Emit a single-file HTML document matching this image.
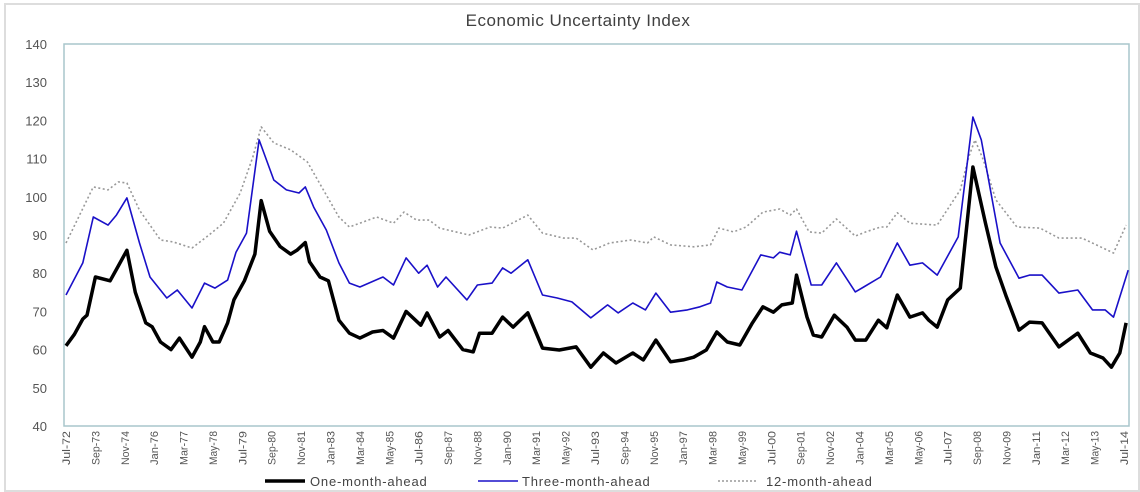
<!DOCTYPE html>
<html><head><meta charset="utf-8"><style>
body{margin:0;background:#fff;width:1140px;height:492px;overflow:hidden;font-family:"Liberation Sans",sans-serif}
svg{display:block}
</style></head><body>
<svg id="chart" width="1140" height="492" xmlns="http://www.w3.org/2000/svg">
<rect x="5" y="4" width="1134" height="487" fill="#fff" stroke="#ddd" stroke-width="2"/>
<text x="578" y="26" text-anchor="middle" font-size="17" fill="#404040" letter-spacing="0.5">Economic Uncertainty Index</text>
<g id="yaxis"></g>
<g id="xaxis"></g>
<rect x="64" y="44" width="1065" height="382" fill="none" stroke="#a8c6cc" stroke-width="1.5"/>
<g id="series"></g>
<g>
<g><line x1="265" y1="481" x2="305" y2="481" stroke="#000" stroke-width="3.5"/><text x="310" y="486" font-size="13" fill="#444" letter-spacing="0.8">One-month-ahead</text></g>
<g><line x1="478" y1="481" x2="518" y2="481" stroke="#1a10c8" stroke-width="1.5"/><text x="522" y="486" font-size="13" fill="#444" letter-spacing="0.8">Three-month-ahead</text></g>
<g><line x1="718" y1="481" x2="758" y2="481" stroke="#999" stroke-width="1.5" stroke-dasharray="2,2"/><text x="766" y="486" font-size="13" fill="#444" letter-spacing="0.8">12-month-ahead</text></g>
</g>
</svg>
<script>
const yTicks=[40,50,60,70,80,90,100,110,120,130,140];
const xTickLabels=["Jul-72","Sep-73","Nov-74","Jan-76","Mar-77","May-78","Jul-79","Sep-80","Nov-81","Jan-83","Mar-84","May-85","Jul-86","Sep-87","Nov-88","Jan-90","Mar-91","May-92","Jul-93","Sep-94","Nov-95","Jan-97","Mar-98","May-99","Jul-00","Sep-01","Nov-02","Jan-04","Mar-05","May-06","Jul-07","Sep-08","Nov-09","Jan-11","Mar-12","May-13","Jul-14"];
const oneMonths=[0,4,8,10,14,21,25,29,33,38,41,45,50,54,60,64,66,70,73,77,80,85,90,93,97,102,107,110,114,116,121,125,130,135,140,146,151,156,162,169,172,178,182,189,194,197,203,208,213,220,227,235,243,250,256,262,270,275,281,288,294,299,305,310,315,321,327,332,337,341,346,348,353,356,360,366,372,376,381,387,391,396,402,408,411,415,420,426,432,438,443,448,454,459,465,473,482,488,494,498,502,505];
const oneValues=[61,64,68,69,79,78,82,86,75,67,66,62,60,63,58,62,66,62,62,67,73,78,85,99,91,87,85,86,88,83,79,78,67.7,64.3,63,64.6,65,63,70,66.4,69.6,63.3,65,60,59.4,64.3,64.3,68.5,65.9,69.6,60.4,59.9,60.7,55.4,59.1,56.5,59.1,57.3,62.5,56.8,57.3,58,59.9,64.6,62,61.2,67,71.2,69.8,71.7,72.2,79.5,68.5,63.8,63.3,69,65.9,62.5,62.5,67.7,65.7,74.3,68.5,69.6,67.7,65.9,73,76.1,107.8,93.1,81.6,73.8,65.1,67.2,67,60.7,64.3,59.1,57.8,55.4,59.1,67];
const threeMonths=[0,8,13,20,24,29,35,40,48,53,60,66,71,77,81,86,92,99,105,111,114,118,124,130,135,140,151,156,162,168,172,177,181,191,196,203,208,212,220,227,234,241,250,258,263,270,276,281,288,296,302,307,310,315,322,331,337,340,345,348,355,360,367,376,380,388,396,402,408,415,425,432,436,445,454,459,465,473,482,489,495,499,506];
const threeValues=[74.3,82.7,94.7,92.6,95.2,99.7,87.9,79,73.5,75.6,70.9,77.4,76.1,78.2,85.5,90.5,114.9,104.4,101.8,101,102.6,97.3,91.3,82.7,77.4,76.4,79,76.9,84,80,82.1,76.4,79,73,76.9,77.4,81.4,80,83.5,74.3,73.5,72.5,68.3,71.7,69.6,72.2,70.4,74.8,69.8,70.4,71.2,72.2,77.7,76.4,75.6,84.8,84,85.5,84.8,91,76.9,76.9,82.7,75.1,76.4,79,87.9,82.1,82.7,79.5,89.5,120.9,114.9,87.9,78.7,79.5,79.5,74.8,75.6,70.4,70.4,68.5,80.8];
const twelveMonths=[0,13,20,25,29,35,45,51,60,67,75,83,89,93,99,107,115,130,135,148,156,161,167,173,178,192,202,208,220,227,237,243,251,259,269,277,280,288,299,307,311,318,324,332,340,345,348,354,360,367,376,381,388,391,396,402,415,426,430,433,437,443,453,464,473,484,499,505];
const twelveValues=[87.9,102.6,101.8,103.9,103.6,96.5,88.7,88.2,86.6,89.5,93.1,101,110.4,118.3,114.1,112.3,109.1,94.7,92.1,94.7,93.1,96,93.9,93.9,91.8,90,92.1,91.8,95.2,90.5,89.2,89.2,86.1,87.9,88.7,87.9,89.5,87.4,86.9,87.4,91.8,90.8,92.1,96,96.8,95.2,96.8,90.8,90.5,94.2,89.7,90.8,92.1,92.1,95.8,93.1,92.6,101.8,110.4,114.9,109.6,99.2,92.1,91.8,89.2,89.2,85.3,92.6];

const NS="http://www.w3.org/2000/svg";
const X0=66,PXM=(1124-66)/504,Y0=426,Y1=44,VMIN=40,VMAX=140;
function xs(m){return X0+m*PXM;}
function ys(v){return Y0-(v-VMIN)*(Y0-Y1)/(VMAX-VMIN);}
const yaxis=document.getElementById('yaxis'),xaxis=document.getElementById('xaxis'),series=document.getElementById('series');
yTicks.forEach(t=>{
  const el=document.createElementNS(NS,'text');
  
  
  el.setAttribute('x',47);el.setAttribute('y',ys(t)+5);
  el.setAttribute('text-anchor','end');el.setAttribute('font-size','13');el.setAttribute('fill','#555');
  el.textContent=t;yaxis.appendChild(el);
});
xTickLabels.forEach((l,i)=>{
  const el=document.createElementNS(NS,'text');
  
  
  const x=xs(i*14)+4,y=431;
  el.setAttribute('transform','translate('+x+','+y+') rotate(-90)');
  el.setAttribute('text-anchor','end');el.setAttribute('font-size','11');el.setAttribute('fill','#555');
  el.setAttribute('textLength','34');el.setAttribute('lengthAdjust','spacingAndGlyphs');
  el.textContent=l;xaxis.appendChild(el);
});
function line(months,vals,stroke,w,dash,name){
  const p=document.createElementNS(NS,'path');
  
  
  let d='';months.forEach((m,i)=>{d+=(i?'L':'M')+xs(m).toFixed(1)+','+ys(vals[i]).toFixed(1);});
  p.setAttribute('d',d);p.setAttribute('fill','none');p.setAttribute('stroke',stroke);
  p.setAttribute('stroke-width',w);p.setAttribute('stroke-linejoin','round');
  if(dash)p.setAttribute('stroke-dasharray',dash);
  series.appendChild(p);
}
line(twelveMonths,twelveValues,'#999',1.6,'2,2.5','twelve-month-ahead-line');
line(threeMonths,threeValues,'#1a10c8',1.6,null,'three-month-ahead-line');
line(oneMonths,oneValues,'#000',3.5,null,'one-month-ahead-line');
</script>
</body></html>
